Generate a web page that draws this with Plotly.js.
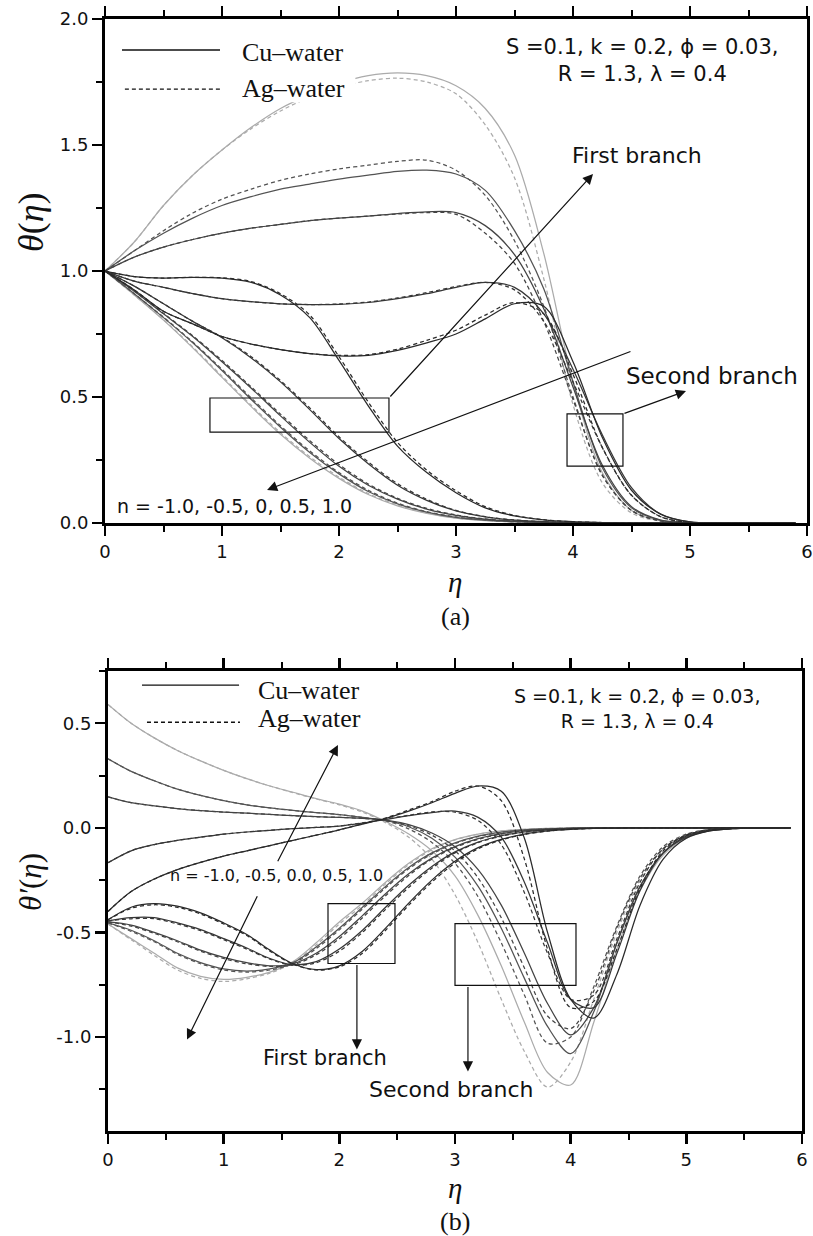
<!DOCTYPE html>
<html><head><meta charset="utf-8">
<script src="https://cdn.plot.ly/plotly-3.0.1.min.js"></script>
<style>html,body{margin:0;padding:0;background:#fff}</style>
</head><body><div id="chart" style="width:813px;height:1236px"></div>
<script>
// ---------- panel (a): theta(eta) ----------
const etaA = [0,0.25,0.5,0.75,1,1.25,1.5,1.75,2,2.25,2.5,2.75,3,3.25,3.5,3.75,4,4.25,4.5,4.75,5,5.25,5.5,5.75,5.9];
// second branch
const thS1Cu = [1.0,1.115,1.26,1.38,1.48,1.57,1.645,1.70,1.745,1.775,1.786,1.775,1.735,1.645,1.46,1.07,0.56,0.20,0.05,0.008,0.001,0,0,0,0];
const thS1Ag = [1.0,1.115,1.26,1.38,1.48,1.565,1.635,1.69,1.73,1.755,1.765,1.75,1.703,1.58,1.37,0.97,0.47,0.16,0.04,0.007,0.001,0,0,0,0];
const thS2Cu = [1.0,1.08,1.15,1.21,1.26,1.295,1.325,1.345,1.365,1.38,1.395,1.40,1.385,1.32,1.16,0.93,0.56,0.22,0.06,0.01,0.001,0,0,0,0];
const thS2Ag = [1.0,1.08,1.16,1.23,1.285,1.325,1.36,1.385,1.405,1.42,1.435,1.44,1.40,1.30,1.12,0.86,0.50,0.19,0.05,0.008,0.001,0,0,0,0];
const thS3Cu = [1.0,1.055,1.095,1.125,1.15,1.17,1.185,1.20,1.21,1.218,1.228,1.235,1.232,1.18,1.065,0.85,0.54,0.23,0.065,0.012,0.001,0,0,0,0];
const thS3Ag = [1.0,1.055,1.095,1.125,1.15,1.17,1.185,1.20,1.21,1.218,1.226,1.232,1.225,1.15,1.03,0.80,0.49,0.19,0.05,0.008,0.001,0,0,0,0];
const thS4Cu = [1.0,0.96,0.935,0.91,0.89,0.878,0.87,0.867,0.868,0.875,0.89,0.91,0.935,0.955,0.935,0.83,0.61,0.35,0.14,0.035,0.004,0,0,0,0];
const thS4Ag = [1.0,0.96,0.935,0.91,0.89,0.878,0.87,0.867,0.869,0.877,0.893,0.914,0.938,0.955,0.925,0.80,0.56,0.30,0.11,0.025,0.002,0,0,0,0];
const thS5Cu = [1.0,0.925,0.84,0.79,0.74,0.71,0.688,0.672,0.663,0.665,0.685,0.715,0.75,0.81,0.87,0.86,0.64,0.34,0.13,0.035,0.004,0,0,0,0];
const thS5Ag = [1.0,0.925,0.84,0.79,0.74,0.71,0.688,0.672,0.665,0.668,0.69,0.725,0.765,0.825,0.875,0.83,0.59,0.30,0.11,0.025,0.002,0,0,0,0];
// first branch
const thF1Cu = [1.0,0.978,0.972,0.975,0.972,0.955,0.905,0.815,0.645,0.465,0.305,0.20,0.12,0.06,0.028,0.012,0.005,0.002,0,0,0,0,0,0,0];
const thF1Ag = [1.0,0.978,0.972,0.975,0.973,0.958,0.91,0.825,0.66,0.48,0.32,0.21,0.128,0.065,0.03,0.013,0.005,0.002,0,0,0,0,0,0,0];
const thF2Cu = [1.0,0.94,0.87,0.80,0.735,0.655,0.56,0.45,0.335,0.235,0.15,0.09,0.048,0.024,0.011,0.005,0.002,0,0,0,0,0,0,0,0];
const thF2Ag = [1.0,0.94,0.87,0.80,0.737,0.66,0.565,0.457,0.342,0.242,0.156,0.094,0.05,0.025,0.012,0.005,0.002,0,0,0,0,0,0,0,0];
const thF3Cu = [1.0,0.92,0.83,0.74,0.64,0.535,0.425,0.32,0.225,0.15,0.095,0.055,0.03,0.015,0.007,0.003,0.001,0,0,0,0,0,0,0,0];
const thF3Ag = [1.0,0.92,0.832,0.743,0.645,0.54,0.432,0.327,0.232,0.155,0.098,0.058,0.032,0.016,0.007,0.003,0.001,0,0,0,0,0,0,0,0];
const thF4Cu = [1.0,0.91,0.815,0.715,0.605,0.49,0.38,0.28,0.195,0.125,0.076,0.043,0.022,0.011,0.005,0.002,0.001,0,0,0,0,0,0,0,0];
const thF4Ag = [1.0,0.91,0.817,0.718,0.61,0.496,0.386,0.286,0.2,0.13,0.079,0.045,0.024,0.012,0.005,0.002,0.001,0,0,0,0,0,0,0,0];
const thF5Cu = [1.0,0.905,0.805,0.695,0.578,0.462,0.352,0.257,0.177,0.113,0.068,0.038,0.019,0.009,0.004,0.002,0.001,0,0,0,0,0,0,0,0];
const thF5Ag = [1.0,0.905,0.807,0.699,0.583,0.467,0.358,0.263,0.182,0.117,0.071,0.04,0.02,0.01,0.004,0.002,0.001,0,0,0,0,0,0,0,0];

// ---------- panel (b): theta'(eta) ----------
const etaB = [0,0.2,0.4,0.6,0.8,1.0,1.2,1.4,1.6,1.8,2.0,2.2,2.4,2.6,2.8,3.0,3.2,3.4,3.6,3.8,4.0,4.2,4.4,4.6,4.8,5.0,5.2,5.4,5.6,5.8,5.9];
const dS1Cu = [0.59,0.50,0.43,0.37,0.32,0.275,0.235,0.2,0.17,0.14,0.113,0.08,0.03,-0.03,-0.11,-0.23,-0.42,-0.66,-0.93,-1.17,-1.23,-0.93,-0.58,-0.3,-0.13,-0.05,-0.015,-0.004,-0.001,0,0];
const dS1Ag = [0.59,0.50,0.43,0.37,0.32,0.275,0.235,0.2,0.168,0.138,0.11,0.075,0.025,-0.045,-0.15,-0.32,-0.55,-0.82,-1.07,-1.24,-1.12,-0.82,-0.5,-0.25,-0.1,-0.035,-0.01,-0.003,0,0,0];
const dS2Cu = [0.33,0.27,0.225,0.185,0.155,0.13,0.11,0.095,0.083,0.073,0.063,0.05,0.035,0.005,-0.05,-0.14,-0.28,-0.48,-0.72,-0.95,-1.08,-0.88,-0.55,-0.28,-0.12,-0.045,-0.013,-0.003,0,0,0];
const dS2Ag = [0.33,0.27,0.225,0.185,0.155,0.13,0.11,0.095,0.083,0.073,0.063,0.05,0.033,-0.005,-0.07,-0.17,-0.33,-0.55,-0.8,-1.03,-1.0,-0.76,-0.47,-0.23,-0.09,-0.03,-0.008,-0.002,0,0,0];
const dS3Cu = [0.148,0.12,0.105,0.092,0.082,0.075,0.07,0.064,0.058,0.053,0.05,0.045,0.037,0.015,-0.025,-0.09,-0.2,-0.37,-0.6,-0.84,-0.99,-0.86,-0.55,-0.28,-0.12,-0.045,-0.014,-0.004,-0.001,0,0];
const dS3Ag = [0.148,0.12,0.105,0.092,0.082,0.075,0.07,0.064,0.058,0.053,0.05,0.045,0.035,0.01,-0.035,-0.11,-0.24,-0.43,-0.67,-0.9,-0.96,-0.78,-0.48,-0.24,-0.1,-0.035,-0.01,-0.003,0,0,0];
const dS4Cu = [-0.167,-0.11,-0.08,-0.06,-0.045,-0.03,-0.02,-0.012,-0.004,0.002,0.008,0.022,0.04,0.058,0.073,0.08,0.05,-0.045,-0.26,-0.55,-0.82,-0.86,-0.6,-0.3,-0.12,-0.04,-0.012,-0.003,0,0,0];
const dS4Ag = [-0.167,-0.11,-0.08,-0.06,-0.045,-0.03,-0.02,-0.012,-0.004,0.002,0.009,0.024,0.042,0.06,0.076,0.075,0.035,-0.08,-0.31,-0.6,-0.82,-0.8,-0.53,-0.26,-0.1,-0.035,-0.01,-0.002,0,0,0];
const dS5Cu = [-0.40,-0.305,-0.245,-0.2,-0.165,-0.135,-0.11,-0.085,-0.06,-0.035,-0.01,0.018,0.045,0.08,0.12,0.165,0.2,0.175,-0.05,-0.5,-0.82,-0.91,-0.7,-0.37,-0.15,-0.05,-0.015,-0.004,-0.001,0,0];
const dS5Ag = [-0.40,-0.305,-0.245,-0.2,-0.165,-0.135,-0.11,-0.085,-0.06,-0.035,-0.01,0.02,0.047,0.085,0.125,0.175,0.2,0.13,-0.15,-0.58,-0.86,-0.83,-0.58,-0.29,-0.11,-0.035,-0.01,-0.002,0,0,0];
const dF1Cu = [-0.44,-0.38,-0.363,-0.375,-0.407,-0.455,-0.51,-0.585,-0.65,-0.678,-0.66,-0.59,-0.48,-0.36,-0.25,-0.16,-0.095,-0.055,-0.03,-0.015,-0.007,-0.003,-0.001,0,0,0,0,0,0,0,0];
const dF1Ag = [-0.44,-0.385,-0.368,-0.38,-0.412,-0.46,-0.515,-0.59,-0.652,-0.68,-0.665,-0.6,-0.49,-0.37,-0.26,-0.168,-0.1,-0.058,-0.032,-0.016,-0.007,-0.003,-0.001,0,0,0,0,0,0,0,0];
const dF2Cu = [-0.445,-0.43,-0.43,-0.455,-0.487,-0.53,-0.575,-0.625,-0.655,-0.64,-0.58,-0.49,-0.38,-0.275,-0.185,-0.115,-0.068,-0.038,-0.02,-0.01,-0.004,-0.002,0,0,0,0,0,0,0,0,0];
const dF2Ag = [-0.445,-0.435,-0.435,-0.46,-0.492,-0.535,-0.58,-0.628,-0.657,-0.645,-0.59,-0.5,-0.39,-0.285,-0.193,-0.12,-0.071,-0.04,-0.021,-0.01,-0.004,-0.002,0,0,0,0,0,0,0,0,0];
const dF3Cu = [-0.45,-0.465,-0.5,-0.54,-0.585,-0.62,-0.645,-0.66,-0.65,-0.6,-0.52,-0.42,-0.315,-0.22,-0.145,-0.09,-0.052,-0.028,-0.014,-0.007,-0.003,-0.001,0,0,0,0,0,0,0,0,0];
const dF3Ag = [-0.45,-0.47,-0.505,-0.545,-0.59,-0.625,-0.65,-0.663,-0.655,-0.607,-0.53,-0.43,-0.325,-0.228,-0.15,-0.094,-0.055,-0.03,-0.015,-0.007,-0.003,-0.001,0,0,0,0,0,0,0,0,0];
const dF4Cu = [-0.455,-0.49,-0.54,-0.6,-0.645,-0.675,-0.685,-0.675,-0.645,-0.57,-0.48,-0.38,-0.28,-0.19,-0.12,-0.072,-0.04,-0.021,-0.01,-0.005,-0.002,-0.001,0,0,0,0,0,0,0,0,0];
const dF4Ag = [-0.455,-0.495,-0.545,-0.605,-0.65,-0.68,-0.69,-0.68,-0.65,-0.578,-0.488,-0.388,-0.287,-0.196,-0.125,-0.075,-0.042,-0.022,-0.011,-0.005,-0.002,-0.001,0,0,0,0,0,0,0,0,0];
const dF5Cu = [-0.46,-0.53,-0.6,-0.67,-0.71,-0.725,-0.715,-0.69,-0.64,-0.55,-0.45,-0.36,-0.26,-0.17,-0.1,-0.056,-0.03,-0.015,-0.007,-0.003,-0.001,0,0,0,0,0,0,0,0,0,0];
const dF5Ag = [-0.46,-0.535,-0.61,-0.68,-0.72,-0.735,-0.722,-0.695,-0.645,-0.56,-0.46,-0.37,-0.268,-0.176,-0.105,-0.058,-0.031,-0.016,-0.007,-0.003,-0.001,0,0,0,0,0,0,0,0,0,0];

// n values and tick labels
const nValues = ['-1.0','-0.5','0','0.5','1.0'];
const nColors = {'-1.0':'#2a2a2a','-0.5':'#363636','0':'#434343','0.5':'#535353','1.0':'#ababab'};
const xTicks = [0,1,2,3,4,5,6];
const yTicksA = [0,0.5,1,1.5,2];
const yTickTextA = ['0.0','0.5','1.0','1.5','2.0'];
const yTicksB = [-1,-0.5,0,0.5];
const yTickTextB = ['-1.0','-0.5','0.0','0.5'];

function tr(x, y, n, fluid, xa, ya) {
  return {x: x, y: y, xaxis: xa, yaxis: ya, mode: 'lines', name: fluid + ' n=' + n,
    line: {shape: 'spline', smoothing: 0.9, width: 1.25, color: nColors[n], dash: fluid === 'Ag' ? '4px,3px' : 'solid'},
    showlegend: false, hoverinfo: 'skip'};
}

const seriesA = [
  [thS1Cu,'1.0','Cu'],[thS1Ag,'1.0','Ag'],[thF5Cu,'1.0','Cu'],[thF5Ag,'1.0','Ag'],
  [thS2Cu,'0.5','Cu'],[thS2Ag,'0.5','Ag'],[thF4Cu,'0.5','Cu'],[thF4Ag,'0.5','Ag'],
  [thS3Cu,'0','Cu'],[thS3Ag,'0','Ag'],[thF3Cu,'0','Cu'],[thF3Ag,'0','Ag'],
  [thS4Cu,'-0.5','Cu'],[thS4Ag,'-0.5','Ag'],[thF2Cu,'-0.5','Cu'],[thF2Ag,'-0.5','Ag'],
  [thS5Cu,'-1.0','Cu'],[thS5Ag,'-1.0','Ag'],[thF1Cu,'-1.0','Cu'],[thF1Ag,'-1.0','Ag']
];
const seriesB = [
  [dS1Cu,'1.0','Cu'],[dS1Ag,'1.0','Ag'],[dF5Cu,'1.0','Cu'],[dF5Ag,'1.0','Ag'],
  [dS2Cu,'0.5','Cu'],[dS2Ag,'0.5','Ag'],[dF4Cu,'0.5','Cu'],[dF4Ag,'0.5','Ag'],
  [dS3Cu,'0','Cu'],[dS3Ag,'0','Ag'],[dF3Cu,'0','Cu'],[dF3Ag,'0','Ag'],
  [dS4Cu,'-0.5','Cu'],[dS4Ag,'-0.5','Ag'],[dF2Cu,'-0.5','Cu'],[dF2Ag,'-0.5','Ag'],
  [dS5Cu,'-1.0','Cu'],[dS5Ag,'-1.0','Ag'],[dF1Cu,'-1.0','Cu'],[dF1Ag,'-1.0','Ag']
];
const traces = [];
seriesA.forEach(s => traces.push(tr(etaA, s[0], s[1], s[2], 'x', 'y')));
seriesB.forEach(s => traces.push(tr(etaB, s[0], s[1], s[2], 'x2', 'y2')));

const tickFont = {family: 'DejaVu Sans', size: 18, color: '#111'};
function xax(domain, anchor) {
  return {domain: domain, anchor: anchor, range: [0, 6], tickvals: xTicks, ticks: 'outside', ticklen: 10, tickwidth: 2.4,
    tickcolor: '#000', linewidth: 3, linecolor: '#000', mirror: 'ticks', showgrid: false, zeroline: false,
    minor: {dtick: 0.5, tick0: 0, ticks: 'outside', ticklen: 6, tickwidth: 2, tickcolor: '#000', showgrid: false},
    tickfont: tickFont, fixedrange: true};
}
function yax(domain, anchor, range, tv, tt) {
  return {domain: domain, anchor: anchor, range: range, tickvals: tv, ticktext: tt, ticks: 'outside', ticklen: 10, tickwidth: 2.4,
    tickcolor: '#000', linewidth: 3, linecolor: '#000', mirror: true, showgrid: false, zeroline: false,
    minor: {dtick: 0.25, tick0: 0, ticks: 'outside', ticklen: 6, tickwidth: 2, tickcolor: '#000', showgrid: false},
    tickfont: tickFont, fixedrange: true};
}

const sansBlack = (s) => ({family: 'DejaVu Sans', size: s, color: '#111'});
const serif = (s) => ({family: 'Liberation Serif', size: s, color: '#111'});

function arrow(xr, yr, hx, hy, tx, ty) {
  return {xref: xr, yref: yr, axref: xr, ayref: yr, x: hx, y: hy, ax: tx, ay: ty, text: '', showarrow: true,
    arrowhead: 2, arrowsize: 1.7, arrowwidth: 1.2, arrowcolor: '#111', standoff: 0, startstandoff: 0};
}
function label(xr, yr, x, y, text, font, xanchor, angle) {
  return {xref: xr, yref: yr, x: x, y: y, text: text, font: font, showarrow: false, xanchor: xanchor || 'center', yanchor: 'middle', textangle: angle || 0};
}

const annotations = [
  // panel (a)
  label('x','y',3.41,1.835,'S =0.1, k = 0.2, ϕ = 0.03,<br>R = 1.3, λ = 0.4', sansBlack(21), 'left'),
  label('x','y',4.547,1.46,'First branch', sansBlack(22)),
  label('x','y',5.19,0.583,'Second branch', sansBlack(23)),
  label('x','y',0.085,0.0675,'n = -1.0, -0.5, 0, 0.5, 1.0', sansBlack(19), 'left'),
  arrow('x','y',4.171,1.385,2.427,0.496),
  arrow('x','y',4.966,0.524,4.427,0.433),
  arrow('x','y',1.385,0.131,4.504,0.683),
  label('x','y',1.154,1.869,'Cu–water', serif(26), 'left'),
  label('x','y',1.154,1.726,'Ag–water', serif(26), 'left'),
  label('paper','paper',31/813,1-222/1236,'<i>θ</i>(<i>η</i>)', serif(36), 'center', -90),
  label('paper','paper',455/813,1-582/1236,'<i>η</i>', serif(29)),
  label('paper','paper',455/813,1-616/1236,'(a)', serif(26)),
  // panel (b)
  label('x2','y2',3.493,0.572,'S =0.1, k = 0.2, ϕ = 0.03,<br>R = 1.3, λ = 0.4', sansBlack(19), 'left'),
  label('x2','y2',1.457,-0.226,'n = -1.0, -0.5, 0.0, 0.5, 1.0', sansBlack(16)),
  arrow('x2','y2',0.683,-1.012,1.297,-0.320),
  arrow('x2','y2',1.988,0.396,1.461,-0.167),
  arrow('x2','y2',2.152,-1.06,2.152,-0.649),
  arrow('x2','y2',3.112,-1.165,3.112,-0.754),
  label('x2','y2',1.876,-1.103,'First branch', sansBlack(21)),
  label('x2','y2',2.965,-1.25,'Second branch', sansBlack(22)),
  label('x2','y2',1.28,0.658,'Cu–water', serif(26), 'left'),
  label('x2','y2',1.28,0.525,'Ag–water', serif(26), 'left'),
  label('paper','paper',30/813,1-882/1236,'<i>θ′</i>(<i>η</i>)', serif(31), 'center', -90),
  label('paper','paper',455/813,1-1188/1236,'<i>η</i>', serif(29)),
  label('paper','paper',455/813,1-1221/1236,'(b)', serif(26))
];

const rect = (xr, yr, x0, x1, y0, y1) => ({type: 'rect', xref: xr, yref: yr, x0: x0, x1: x1, y0: y0, y1: y1, line: {color: '#111', width: 1.2}, layer: 'above'});
const seg = (xr, yr, x0, x1, y, dash) => ({type: 'line', xref: xr, yref: yr, x0: x0, x1: x1, y0: y, y1: y, line: {color: '#111', width: 1.3, dash: dash}, layer: 'above'});
const shapes = [
  {type: 'rect', xref: 'x', yref: 'y', x0: 0.05, x1: 2.14, y0: 1.67, y1: 1.98, fillcolor: '#fff', line: {width: 0}, layer: 'above'},
  seg('x','y',0.145,0.983,1.877,'solid'),
  seg('x','y',0.17,0.983,1.722,'4px,3px'),
  rect('x','y',0.897,2.427,0.361,0.496),
  rect('x','y',3.949,4.427,0.226,0.433),
  seg('x2','y2',0.294,1.133,0.682,'solid'),
  seg('x2','y2',0.337,1.141,0.505,'4px,3px'),
  rect('x2','y2',1.902,2.481,-0.649,-0.363),
  rect('x2','y2',3.0,4.046,-0.754,-0.458)
];

const layout = {
  width: 813, height: 1236, margin: {l: 0, r: 0, t: 0, b: 0},
  paper_bgcolor: '#fff', plot_bgcolor: '#fff', showlegend: false,
  xaxis: xax([105/813, 807/813], 'y'),
  yaxis: yax([1-523/1236, 1-19/1236], 'x', [0, 2], yTicksA, yTickTextA),
  xaxis2: xax([108/813, 802/813], 'y2'),
  yaxis2: yax([1-1131/1236, 1-671/1236], 'x2', [-1.45, 0.75], yTicksB, yTickTextB),
  annotations: annotations, shapes: shapes
};
Plotly.newPlot('chart', traces, layout, {staticPlot: true, displayModeBar: false});
</script></body></html>
